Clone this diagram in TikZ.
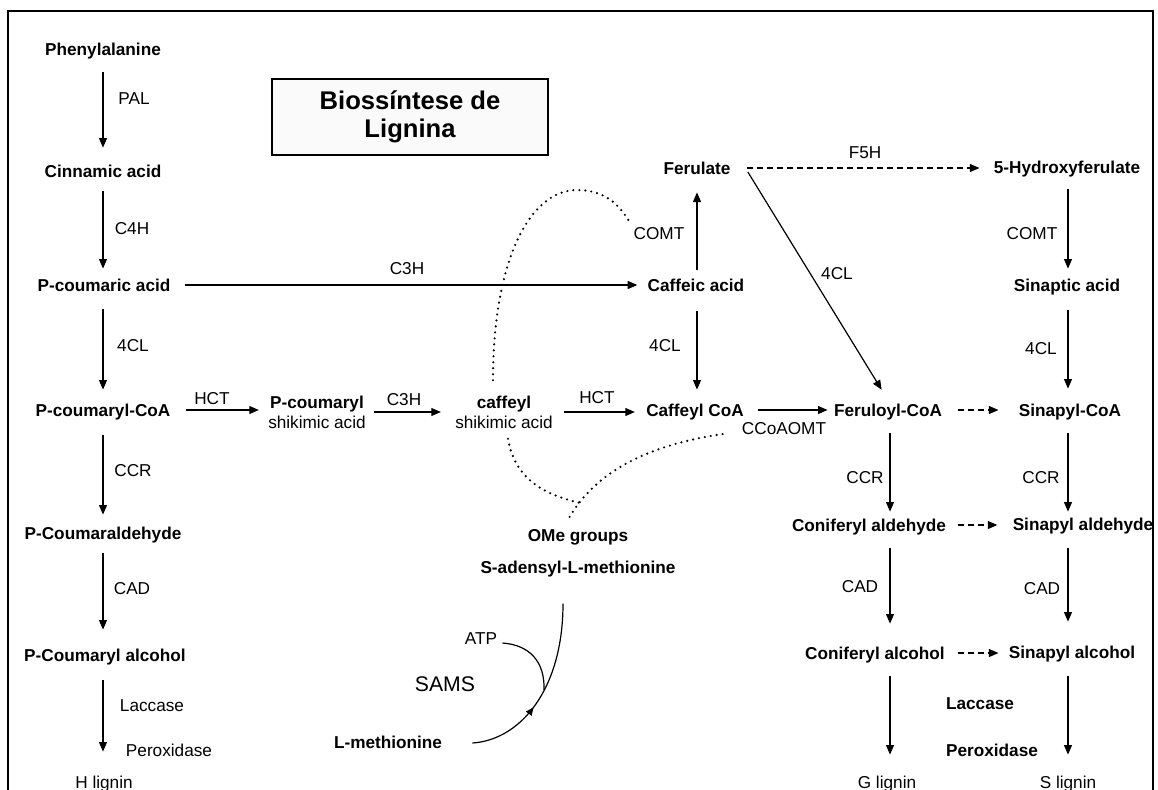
\documentclass[tikz,border=0pt]{standalone}
\usepackage{fontspec}
\setmainfont{Liberation Sans}
\usetikzlibrary{arrows.meta,calc,decorations.markings}
\begin{document}
\begin{tikzpicture}[x=0.5pt,y=-0.5pt,
  cmp/.style={inner sep=0pt,text height=6.2pt,text depth=0pt,font=\fontsize{8.6}{10}\selectfont\bfseries},
  cmpr/.style={inner sep=0pt,text height=6.2pt,text depth=0pt,font=\fontsize{8.6}{10}\selectfont},
  cmp2/.style={inner sep=0pt,align=center,font=\fontsize{8.6}{10}\selectfont},
  enz/.style={inner sep=0pt,text height=6.2pt,text depth=0pt,font=\fontsize{8.6}{10}\selectfont},
  enzb/.style={enz,font=\fontsize{8.6}{10}\selectfont\bfseries},
  arr/.style={line width=0.6pt,-{Triangle[length=4.8pt,width=4pt]}},
  darr/.style={arr,dash pattern=on 3pt off 2pt},
  dots/.style={line width=1.2pt,line cap=round,dash pattern=on 0pt off 3pt},
  thin/.style={line width=0.6pt}
]
\useasboundingbox (0,0) rectangle (1158,789);
% frame
\draw[line width=0.8pt] (8,820) -- (8,11) -- (1153,11) -- (1153,820);

% column references
\coordinate (colL) at (103,0);
\coordinate (colC) at (697,0);
\coordinate (colF) at (890,0);
\coordinate (colR) at (1068,0);

% title
\node[draw,line width=1pt,fill=gray!4,minimum width=138pt,minimum height=38pt,inner sep=0pt,align=center,
      font=\fontsize{12.8}{14}\selectfont\bfseries] (title) at (410,117) {Biossíntese de\\Lignina};

% compounds
\node[cmp] (phe) at (103,49) {Phenylalanine};
\node[cmp] (cin) at (103,171) {Cinnamic acid};
\node[cmp] (pcoum) at (104,285) {P-coumaric acid};
\node[cmp] (pcoa) at (103,410) {P-coumaryl-CoA};
\node[cmp] (pcald) at (103,533) {P-Coumaraldehyde};
\node[cmp] (pcalc) at (105,655) {P-Coumaryl alcohol};
\node[cmpr] (hlig) at (104,782) {H lignin};
\node[cmp2] (pcs) at (317,412) {\textbf{P-coumaryl}\\shikimic acid};
\node[cmp2] (cs) at (504,412) {\textbf{caffeyl}\\shikimic acid};
\node[cmp] (fer) at (697,168) {Ferulate};
\node[cmp] (caf) at (696,285) {Caffeic acid};
\node[cmp] (ccoa) at (695,410) {Caffeyl CoA};
\node[cmp] (hyd) at (1067,167) {5-Hydroxyferulate};
\node[cmp] (sinac) at (1067,285) {Sinaptic acid};
\node[cmp] (fercoa) at (888,410) {Feruloyl-CoA};
\node[cmp] (sincoa) at (1070,410) {Sinapyl-CoA};
\node[cmp] (conald) at (869,525) {Coniferyl aldehyde};
\node[cmp] (sinald) at (1083,524) {Sinapyl aldehyde};
\node[cmp] (conalc) at (875,653) {Coniferyl alcohol};
\node[cmp] (sinalc) at (1072,652) {Sinapyl alcohol};
\node[cmpr] (glig) at (887,782) {G lignin};
\node[cmpr] (slig) at (1068,782) {S lignin};
\node[cmp] (ome) at (578,535) {OMe groups};
\node[cmp] (sadm) at (578,567) {S-adensyl-L-methionine};
\node[cmp] (lmet) at (388,742) {L-methionine};
\node[enz] (atp) at (481,638) {ATP};
\node[enz,font=\fontsize{10.6}{12}\selectfont] (sams) at (445,685) {SAMS};

% enzyme labels
\node[enz] (lpal) at (134,98) {PAL};
\node[enz] (lc4h) at (132,228) {C4H};
\node[enz] (l4cla) at (133,345) {4CL};
\node[enz] (lccra) at (133,470) {CCR};
\node[enz] (lcada) at (132,588) {CAD};
\node[enz] (llaca) at (152,705) {Laccase};
\node[enz] (lpera) at (169,750) {Peroxidase};
\node[enz] (lc3ha) at (407,268) {C3H};
\node[enz] (lhcta) at (212,398) {HCT};
\node[enz] (lc3hb) at (404,399) {C3H};
\node[enz] (lhctb) at (597,397) {HCT};
\node[enz] (lcomta) at (659,233) {COMT};
\node[enz] (l4clb) at (665,345) {4CL};
\node[enz] (lf5h) at (865,152) {F5H};
\node[enz] (l4clc) at (837,273) {4CL};
\node[enz] (lcomtb) at (1032,233) {COMT};
\node[enz] (l4cld) at (1041,348) {4CL};
\node[enz] (lccoa) at (784,428) {CCoAOMT};
\node[enz] (lccrb) at (865,477) {CCR};
\node[enz] (lccrc) at (1041,477) {CCR};
\node[enz] (lcadb) at (860,586) {CAD};
\node[enz] (lcadc) at (1042,588) {CAD};
\node[enzb] (llacb) at (980,703) {Laccase};
\node[enzb] (lperb) at (992,750) {Peroxidase};

% left column
\draw[arr,shorten <=8.4pt,shorten >=8.4pt] (phe.south -| colL) -- (cin.north -| colL);
\draw[arr,shorten <=6.9pt,shorten >=4.9pt] (cin.south -| colL) -- (pcoum.north -| colL);
\draw[arr,shorten <=8.9pt,shorten >=6.9pt] (pcoum.south -| colL) -- (pcoa.north -| colL);
\draw[arr,shorten <=9.4pt,shorten >=5.9pt] (pcoa.south -| colL) -- (pcald.north -| colL);
\draw[arr,shorten <=6.9pt,shorten >=9.4pt] (pcald.south -| colL) -- (pcalc.north -| colL);
\draw[arr,shorten <=9.4pt,shorten >=11.9pt] (pcalc.south -| colL) -- (hlig.north -| colL);

% C3H long arrow
\draw[arr,shorten <=7pt,shorten >=5pt] (pcoum.east) -- (pcoum.east -| caf.west);

% row of CoA
\draw[arr,shorten <=7.5pt,shorten >=4.5pt] (pcoa.east) -- (pcoa.east -| pcs.west);
\draw[arr,shorten <=4pt,shorten >=7pt] (pcs.east) -- (pcs.east -| cs.west);
\draw[arr,shorten <=5.5pt,shorten >=5.5pt] (cs.east) -- (cs.east -| ccoa.west);
\draw[arr,shorten <=7pt,shorten >=3pt] (ccoa.east) -- (ccoa.east -| fercoa.west);
\draw[darr,shorten <=8pt,shorten >=10pt] (fercoa.east) -- (fercoa.east -| sincoa.west);
\draw[darr,shorten <=6pt,shorten >=7.5pt] (conald.east) -- (conald.east -| sinald.west);
\draw[darr,shorten <=6.5pt,shorten >=5pt] (conalc.east) -- (conalc.east -| sinalc.west);
\draw[darr,shorten <=8pt,shorten >=7pt] (fer.east) -- (fer.east -| hyd.west);

% caffeic column
\draw[arr,shorten <=4.4pt,shorten >=8.9pt] (caf.north -| colC) -- (fer.south -| colC);
\draw[arr,shorten <=9.9pt,shorten >=6.9pt] (caf.south -| colC) -- (ccoa.north -| colC);

% diagonal 4CL
\draw[arr,shorten >=8pt] ($(fer.east)+(17,4)$) -- (fercoa.north -| colF);

% feruloyl column
\draw[arr,shorten <=8.4pt,shorten >=3.4pt] (fercoa.south -| colF) -- (conald.north -| colF);
\draw[arr,shorten <=8.4pt,shorten >=11.4pt] (conald.south -| colF) -- (conalc.north -| colF);
\draw[arr,shorten <=8.4pt,shorten >=10.4pt] (conalc.south -| colF) -- (glig.north -| colF);

% right column
\draw[arr,shorten <=7.9pt,shorten >=4.9pt] (hyd.south -| colR) -- (sinac.north -| colR);
\draw[arr,shorten <=9.4pt,shorten >=7.4pt] (sinac.south -| colR) -- (sincoa.north -| colR);
\draw[arr,shorten <=8.4pt,shorten >=2.9pt] (sincoa.south -| colR) -- (sinald.north -| colR);
\draw[arr,shorten <=8.9pt,shorten >=11.9pt] (sinald.south -| colR) -- (sinalc.north -| colR);
\draw[arr,shorten <=8.9pt,shorten >=10.4pt] (sinalc.south -| colR) -- (slig.north -| colR);

% dotted methylation curves
\draw[dots] ($(cs.north)+(-11,-15)$) .. controls (493,260) and (530,190) .. (577,190)
            .. controls (605,190) and (620,205) .. ($(lcomta.north west)+(-3,-3)$);
\draw[dots] ($(cs.south)+(4,10)$) .. controls (515,480) and (545,495) .. ($(ome.north)+(4,-25)$);
\draw[dots] ($(lccoa.west)+(-19,6)$) .. controls (650,445) and (595,470) .. ($(ome.north)+(-11,-7)$);

% SAM synthesis
\draw[thin,decoration={markings,mark=at position 0.4 with {\arrow{Triangle[length=4pt,width=3.4pt]}}},postaction={decorate}]
  ($(lmet.east)+(30,1)$) .. controls (520,740) and (563,690) .. ($(sadm.south)+(-15,30)$);
\draw[thin] ($(atp.east)+(5,5)$) .. controls (530,645) and (545,662) .. (544,690);
\end{tikzpicture}
\end{document}
